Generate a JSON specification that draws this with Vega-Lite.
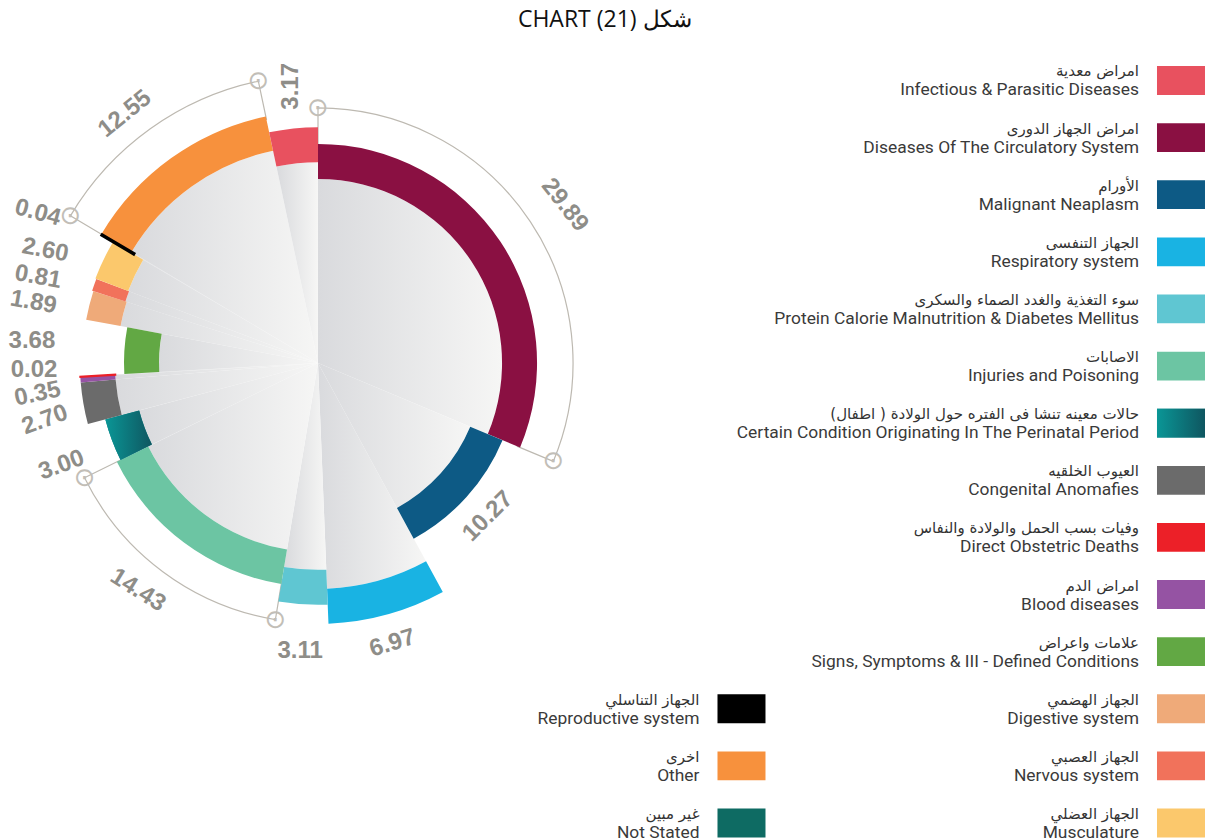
{
  "$schema": "https://vega.github.io/schema/vega-lite/v6.json",
  "padding": {"top": 8, "left": -5, "right": 0, "bottom": 0},
  "bounds": "flush",
  "spacing": 64,
  "title": {"text": "CHART (21) شكل", "font": "Open Sans", "fontSize": 23, "fontWeight": "normal", "color": "#111111", "anchor": "middle", "offset": 5},
  "config": {"view": {"stroke": null}},
  "datasets": {
    "causes": [
      {"key": "circ", "ord": 1, "value": 29.89, "len": 69.1, "en": "Diseases Of The Circulatory System", "ar": "امراض الجهاز الدورى", "lcol": 2, "lrow": 2},
      {"key": "malig", "ord": 2, "value": 10.27, "len": 63.1, "en": "Malignant Neaplasm", "ar": "الأورام", "lcol": 2, "lrow": 3},
      {"key": "resp", "ord": 3, "value": 6.97, "len": 82.3, "en": "Respiratory system", "ar": "الجهاز التنفسى", "lcol": 2, "lrow": 4},
      {"key": "protein", "ord": 4, "value": 3.11, "len": 76.3, "en": "Protein Calorie Malnutrition & Diabetes Mellitus", "ar": "سوء التغذية والغدد الصماء والسكرى", "lcol": 2, "lrow": 5},
      {"key": "inj", "ord": 5, "value": 14.43, "len": 70.7, "en": "Injuries and Poisoning", "ar": "الاصابات", "lcol": 2, "lrow": 6},
      {"key": "peri", "ord": 6, "value": 3.00, "len": 69.4, "en": "Certain Condition Originating In The Perinatal Period", "ar": "حالات معينه تنشا فى الفتره حول الولادة ( اطفال)", "lcol": 2, "lrow": 7},
      {"key": "cong", "ord": 7, "value": 2.70, "len": 75.1, "en": "Congenital Anomafies", "ar": "العيوب الخلقيه", "lcol": 2, "lrow": 8},
      {"key": "blood", "ord": 8, "value": 0.35, "len": 75.1, "en": "Blood diseases", "ar": "امراض الدم", "lcol": 2, "lrow": 10},
      {"key": "direct", "ord": 9, "value": 0.02, "len": 75.1, "en": "Direct Obstetric Deaths", "ar": "وفيات بسب الحمل والولادة والنفاس", "lcol": 2, "lrow": 9},
      {"key": "signs", "ord": 10, "value": 3.68, "len": 61.2, "en": "Signs, Symptoms & III - Defined Conditions", "ar": "علامات واعراض", "lcol": 2, "lrow": 11},
      {"key": "dig", "ord": 11, "value": 1.89, "len": 74.4, "en": "Digestive system", "ar": "الجهاز الهضمي", "lcol": 2, "lrow": 12},
      {"key": "nerv", "ord": 12, "value": 0.81, "len": 74.8, "en": "Nervous system", "ar": "الجهاز العصبي", "lcol": 2, "lrow": 13},
      {"key": "musc", "ord": 13, "value": 2.60, "len": 75.1, "en": "Musculature", "ar": "الجهاز العضلي", "lcol": 2, "lrow": 14},
      {"key": "repro", "ord": 14, "value": 0.04, "len": 79.2, "en": "Reproductive system", "ar": "الجهاز التناسلي", "lcol": 1, "lrow": 12},
      {"key": "other", "ord": 15, "value": 12.55, "len": 79.5, "en": "Other", "ar": "اخرى", "lcol": 1, "lrow": 13},
      {"key": "infect", "ord": 16, "value": 3.17, "len": 74.4, "en": "Infectious & Parasitic Diseases", "ar": "امراض معدية", "lcol": 2, "lrow": 1},
      {"key": "notst", "ord": 17, "value": null, "len": null, "en": "Not Stated", "ar": "غير مبين", "lcol": 1, "lrow": 14}
    ]
  },
  "hconcat": [
    {
      "width": 636,
      "height": 638,
      "data": {"name": "causes"},
      "transform": [
        {"filter": "datum.value != null"},
        {"stack": "value", "groupby": [], "sort": [{"field": "ord", "order": "ascending"}], "as": ["v0", "v1"]}
      ],
      "layer": [
        {
          "mark": {"type": "arc", "radiusOffset": -35, "fill": {"gradient": "linear", "x1": 0, "y1": 0, "x2": 1, "y2": 0, "stops": [{"offset": 0, "color": "#d9dadd"}, {"offset": 1, "color": "#f6f6f5"}]}},
          "encoding": {
            "theta": {"field": "v0", "type": "quantitative", "stack": null, "scale": {"domain": [0, 95.48]}},
            "theta2": {"field": "v1"},
            "radius": {"field": "len", "type": "quantitative", "scale": {"type": "linear", "domain": [0, 100], "range": [0, 317]}}
          }
        },
        {
          "transform": [{"filter": "indexof(['circ','inj','other'], datum.key) >= 0"}],
          "mark": {"type": "arc", "filled": false, "stroke": "#bdb9b1", "strokeWidth": 1.2, "radiusOffset": 36, "radius2Offset": -3},
          "encoding": {
            "theta": {"field": "v0", "type": "quantitative", "stack": null, "scale": {"domain": [0, 95.48]}},
            "theta2": {"field": "v1"},
            "radius": {"field": "len", "type": "quantitative", "scale": {"type": "linear", "domain": [0, 100], "range": [0, 317]}},
            "radius2": {"field": "len"}
          }
        },
        {
          "mark": {"type": "arc", "radius2Offset": -35},
          "encoding": {
            "theta": {"field": "v0", "type": "quantitative", "stack": null, "scale": {"domain": [0, 95.48]}},
            "theta2": {"field": "v1"},
            "radius": {"field": "len", "type": "quantitative", "scale": {"type": "linear", "domain": [0, 100], "range": [0, 317]}},
            "radius2": {"field": "len"},
            "color": {"field": "key", "type": "nominal", "legend": null,
              "scale": {"domain": ["infect", "circ", "malig", "resp", "protein", "inj", "peri", "cong", "direct", "blood", "signs", "dig", "nerv", "musc", "repro", "other", "notst"],
                        "range": ["#e8515f", "#8a1042", "#0d5a85", "#19b3e3", "#5fc6d2", "#6cc5a3", "#0d8285", "#6b6b6b", "#ec2028", "#9553a3", "#62a844", "#efaa79", "#f1725b", "#fbc86c", "#000000", "#f7913d", "#0e6b63"]}}
          }
        },
        {
          "transform": [{"filter": "datum.key === 'peri'"}],
          "mark": {"type": "arc", "radius2Offset": -35, "fill": {"gradient": "linear", "x1": 0, "y1": 0, "x2": 1, "y2": 0, "stops": [{"offset": 0, "color": "#0a9696"}, {"offset": 1, "color": "#0f5660"}]}},
          "encoding": {
            "theta": {"field": "v0", "type": "quantitative", "stack": null, "scale": {"domain": [0, 95.48]}},
            "theta2": {"field": "v1"},
            "radius": {"field": "len", "type": "quantitative", "scale": {"type": "linear", "domain": [0, 100], "range": [0, 317]}},
            "radius2": {"field": "len"}
          }
        },
        {
          "transform": [{"filter": "datum.key === 'repro'"}],
          "mark": {"type": "arc", "radius2Offset": -37, "fill": "#000000", "stroke": "#000000", "strokeWidth": 3},
          "encoding": {
            "theta": {"field": "v0", "type": "quantitative", "stack": null, "scale": {"domain": [0, 95.48]}},
            "theta2": {"field": "v1"},
            "radius": {"field": "len", "type": "quantitative", "scale": {"type": "linear", "domain": [0, 100], "range": [0, 317]}},
            "radius2": {"field": "len"}
          }
        },
        {
          "transform": [{"filter": "datum.key === 'direct'"}],
          "mark": {"type": "arc", "radius2Offset": -35, "fill": "#ec2028", "stroke": "#ec2028", "strokeWidth": 2},
          "encoding": {
            "theta": {"field": "v0", "type": "quantitative", "stack": null, "scale": {"domain": [0, 95.48]}},
            "theta2": {"field": "v1"},
            "radius": {"field": "len", "type": "quantitative", "scale": {"type": "linear", "domain": [0, 100], "range": [0, 317]}},
            "radius2": {"field": "len"}
          }
        },
        {
          "transform": [{"filter": "indexof(['circ','inj','other'], datum.key) >= 0"}],
          "mark": {"type": "text", "text": "⊙", "font": "DejaVu Sans", "fontSize": 26, "color": "#c2beb7", "radiusOffset": 36, "baseline": "middle"},
          "encoding": {
            "theta": {"field": "v0", "type": "quantitative", "stack": null, "scale": {"domain": [0, 95.48]}},
            "radius": {"field": "len", "type": "quantitative", "scale": {"type": "linear", "domain": [0, 100], "range": [0, 317]}}
          }
        },
        {
          "transform": [{"filter": "indexof(['circ','inj','other'], datum.key) >= 0"}],
          "mark": {"type": "text", "text": "⊙", "font": "DejaVu Sans", "fontSize": 26, "color": "#c2beb7", "radiusOffset": 36, "baseline": "middle"},
          "encoding": {
            "theta": {"field": "v1", "type": "quantitative", "stack": null, "scale": {"domain": [0, 95.48]}},
            "radius": {"field": "len", "type": "quantitative", "scale": {"type": "linear", "domain": [0, 100], "range": [0, 317]}}
          }
        },
        {"mark": {"type": "text", "font": "Liberation Sans", "fontWeight": "bold", "fontSize": 24, "color": "#8e8d88", "angle": 52, "thetaOffset": 0.018},
         "encoding": {"theta": {"field": "value", "type": "quantitative", "stack": true, "scale": {"domain": [0, 95.48]}}, "order": {"field": "ord", "type": "quantitative"}, "detail": {"field": "key"}, "radius": {"datum": 92.4, "type": "quantitative", "scale": {"type": "linear", "domain": [0, 100], "range": [0, 317]}},
           "text": {"condition": {"test": "datum.key === 'circ'", "field": "value", "type": "quantitative", "format": ".2f"}, "value": ""}}},
        {"mark": {"type": "text", "font": "Liberation Sans", "fontWeight": "bold", "fontSize": 24, "color": "#8e8d88", "angle": -45, "thetaOffset": 0},
         "encoding": {"theta": {"field": "value", "type": "quantitative", "stack": true, "scale": {"domain": [0, 95.48]}}, "order": {"field": "ord", "type": "quantitative"}, "detail": {"field": "key"}, "radius": {"datum": 72.2, "type": "quantitative", "scale": {"type": "linear", "domain": [0, 100], "range": [0, 317]}},
           "text": {"condition": {"test": "datum.key === 'malig'", "field": "value", "type": "quantitative", "format": ".2f"}, "value": ""}}},
        {"mark": {"type": "text", "font": "Liberation Sans", "fontWeight": "bold", "fontSize": 24, "color": "#8e8d88", "angle": -17, "thetaOffset": 0.01},
         "encoding": {"theta": {"field": "value", "type": "quantitative", "stack": true, "scale": {"domain": [0, 95.48]}}, "order": {"field": "ord", "type": "quantitative"}, "detail": {"field": "key"}, "radius": {"datum": 91.5, "type": "quantitative", "scale": {"type": "linear", "domain": [0, 100], "range": [0, 317]}},
           "text": {"condition": {"test": "datum.key === 'resp'", "field": "value", "type": "quantitative", "format": ".2f"}, "value": ""}}},
        {"mark": {"type": "text", "font": "Liberation Sans", "fontWeight": "bold", "fontSize": 24, "color": "#8e8d88", "angle": 0, "thetaOffset": 0},
         "encoding": {"theta": {"field": "value", "type": "quantitative", "stack": true, "scale": {"domain": [0, 95.48]}}, "order": {"field": "ord", "type": "quantitative"}, "detail": {"field": "key"}, "radius": {"datum": 90.9, "type": "quantitative", "scale": {"type": "linear", "domain": [0, 100], "range": [0, 317]}},
           "text": {"condition": {"test": "datum.key === 'protein'", "field": "value", "type": "quantitative", "format": ".2f"}, "value": ""}}},
        {"mark": {"type": "text", "font": "Liberation Sans", "fontWeight": "bold", "fontSize": 24, "color": "#8e8d88", "angle": 32, "thetaOffset": 0.031},
         "encoding": {"theta": {"field": "value", "type": "quantitative", "stack": true, "scale": {"domain": [0, 95.48]}}, "order": {"field": "ord", "type": "quantitative"}, "detail": {"field": "key"}, "radius": {"datum": 91.5, "type": "quantitative", "scale": {"type": "linear", "domain": [0, 100], "range": [0, 317]}},
           "text": {"condition": {"test": "datum.key === 'inj'", "field": "value", "type": "quantitative", "format": ".2f"}, "value": ""}}},
        {"mark": {"type": "text", "font": "Liberation Sans", "fontWeight": "bold", "fontSize": 24, "color": "#8e8d88", "angle": -20, "thetaOffset": -0.021},
         "encoding": {"theta": {"field": "value", "type": "quantitative", "stack": true, "scale": {"domain": [0, 95.48]}}, "order": {"field": "ord", "type": "quantitative"}, "detail": {"field": "key"}, "radius": {"datum": 87.1, "type": "quantitative", "scale": {"type": "linear", "domain": [0, 100], "range": [0, 317]}},
           "text": {"condition": {"test": "datum.key === 'peri'", "field": "value", "type": "quantitative", "format": ".2f"}, "value": ""}}},
        {"mark": {"type": "text", "font": "Liberation Sans", "fontWeight": "bold", "fontSize": 24, "color": "#8e8d88", "angle": -20, "thetaOffset": -0.035},
         "encoding": {"theta": {"field": "value", "type": "quantitative", "stack": true, "scale": {"domain": [0, 95.48]}}, "order": {"field": "ord", "type": "quantitative"}, "detail": {"field": "key"}, "radius": {"datum": 88.0, "type": "quantitative", "scale": {"type": "linear", "domain": [0, 100], "range": [0, 317]}},
           "text": {"condition": {"test": "datum.key === 'cong'", "field": "value", "type": "quantitative", "format": ".2f"}, "value": ""}}},
        {"mark": {"type": "text", "font": "Liberation Sans", "fontWeight": "bold", "fontSize": 24, "color": "#8e8d88", "angle": -12, "thetaOffset": -0.04},
         "encoding": {"theta": {"field": "value", "type": "quantitative", "stack": true, "scale": {"domain": [0, 95.48]}}, "order": {"field": "ord", "type": "quantitative"}, "detail": {"field": "key"}, "radius": {"datum": 89.0, "type": "quantitative", "scale": {"type": "linear", "domain": [0, 100], "range": [0, 317]}},
           "text": {"condition": {"test": "datum.key === 'blood'", "field": "value", "type": "quantitative", "format": ".2f"}, "value": ""}}},
        {"mark": {"type": "text", "font": "Liberation Sans", "fontWeight": "bold", "fontSize": 24, "color": "#8e8d88", "angle": 0, "thetaOffset": 0.034},
         "encoding": {"theta": {"field": "value", "type": "quantitative", "stack": true, "scale": {"domain": [0, 95.48]}}, "order": {"field": "ord", "type": "quantitative"}, "detail": {"field": "key"}, "radius": {"datum": 89.6, "type": "quantitative", "scale": {"type": "linear", "domain": [0, 100], "range": [0, 317]}},
           "text": {"condition": {"test": "datum.key === 'direct'", "field": "value", "type": "quantitative", "format": ".2f"}, "value": ""}}},
        {"mark": {"type": "text", "font": "Liberation Sans", "fontWeight": "bold", "fontSize": 24, "color": "#8e8d88", "angle": 0, "thetaOffset": 0.012},
         "encoding": {"theta": {"field": "value", "type": "quantitative", "stack": true, "scale": {"domain": [0, 95.48]}}, "order": {"field": "ord", "type": "quantitative"}, "detail": {"field": "key"}, "radius": {"datum": 90.5, "type": "quantitative", "scale": {"type": "linear", "domain": [0, 100], "range": [0, 317]}},
           "text": {"condition": {"test": "datum.key === 'signs'", "field": "value", "type": "quantitative", "format": ".2f"}, "value": ""}}},
        {"mark": {"type": "text", "font": "Liberation Sans", "fontWeight": "bold", "fontSize": 24, "color": "#8e8d88", "angle": 10, "thetaOffset": -0.037},
         "encoding": {"theta": {"field": "value", "type": "quantitative", "stack": true, "scale": {"domain": [0, 95.48]}}, "order": {"field": "ord", "type": "quantitative"}, "detail": {"field": "key"}, "radius": {"datum": 91.8, "type": "quantitative", "scale": {"type": "linear", "domain": [0, 100], "range": [0, 317]}},
           "text": {"condition": {"test": "datum.key === 'dig'", "field": "value", "type": "quantitative", "format": ".2f"}, "value": ""}}},
        {"mark": {"type": "text", "font": "Liberation Sans", "fontWeight": "bold", "fontSize": 24, "color": "#8e8d88", "angle": 10, "thetaOffset": -0.038},
         "encoding": {"theta": {"field": "value", "type": "quantitative", "stack": true, "scale": {"domain": [0, 95.48]}}, "order": {"field": "ord", "type": "quantitative"}, "detail": {"field": "key"}, "radius": {"datum": 92.4, "type": "quantitative", "scale": {"type": "linear", "domain": [0, 100], "range": [0, 317]}},
           "text": {"condition": {"test": "datum.key === 'nerv'", "field": "value", "type": "quantitative", "format": ".2f"}, "value": ""}}},
        {"mark": {"type": "text", "font": "Liberation Sans", "fontWeight": "bold", "fontSize": 24, "color": "#8e8d88", "angle": 11, "thetaOffset": -0.056},
         "encoding": {"theta": {"field": "value", "type": "quantitative", "stack": true, "scale": {"domain": [0, 95.48]}}, "order": {"field": "ord", "type": "quantitative"}, "detail": {"field": "key"}, "radius": {"datum": 93.1, "type": "quantitative", "scale": {"type": "linear", "domain": [0, 100], "range": [0, 317]}},
           "text": {"condition": {"test": "datum.key === 'musc'", "field": "value", "type": "quantitative", "format": ".2f"}, "value": ""}}},
        {"mark": {"type": "text", "font": "Liberation Sans", "fontWeight": "bold", "fontSize": 24, "color": "#8e8d88", "angle": 15, "thetaOffset": -0.043},
         "encoding": {"theta": {"field": "value", "type": "quantitative", "stack": true, "scale": {"domain": [0, 95.48]}}, "order": {"field": "ord", "type": "quantitative"}, "detail": {"field": "key"}, "radius": {"datum": 100.3, "type": "quantitative", "scale": {"type": "linear", "domain": [0, 100], "range": [0, 317]}},
           "text": {"condition": {"test": "datum.key === 'repro'", "field": "value", "type": "quantitative", "format": ".2f"}, "value": ""}}},
        {"mark": {"type": "text", "font": "Liberation Sans", "fontWeight": "bold", "fontSize": 24, "color": "#8e8d88", "angle": -39, "thetaOffset": -0.038},
         "encoding": {"theta": {"field": "value", "type": "quantitative", "stack": true, "scale": {"domain": [0, 95.48]}}, "order": {"field": "ord", "type": "quantitative"}, "detail": {"field": "key"}, "radius": {"datum": 99.4, "type": "quantitative", "scale": {"type": "linear", "domain": [0, 100], "range": [0, 317]}},
           "text": {"condition": {"test": "datum.key === 'other'", "field": "value", "type": "quantitative", "format": ".2f"}, "value": ""}}},
        {"mark": {"type": "text", "font": "Liberation Sans", "fontWeight": "bold", "fontSize": 24, "color": "#8e8d88", "angle": -90, "thetaOffset": 0.007},
         "encoding": {"theta": {"field": "value", "type": "quantitative", "stack": true, "scale": {"domain": [0, 95.48]}}, "order": {"field": "ord", "type": "quantitative"}, "detail": {"field": "key"}, "radius": {"datum": 87.7, "type": "quantitative", "scale": {"type": "linear", "domain": [0, 100], "range": [0, 317]}},
           "text": {"condition": {"test": "datum.key === 'infect'", "field": "value", "type": "quantitative", "format": ".2f"}, "value": ""}}}
      ]
    },
    {
      "width": 514,
      "height": 790,
      "data": {"name": "causes"},
      "encoding": {
        "x": {"field": "lcol", "type": "quantitative", "scale": {"domain": [0.9056, 2.0751]}, "axis": null},
        "y": {"field": "lrow", "type": "quantitative", "scale": {"domain": [0.361, 14.193], "reverse": true}, "axis": null}
      },
      "layer": [
        {
          "mark": {"type": "point", "shape": "M-1,-0.6L1,-0.6L1,0.6L-1,0.6Z", "size": 2304, "filled": true, "opacity": 1, "strokeWidth": 0},
          "encoding": {
            "color": {"field": "key", "type": "nominal", "legend": null,
              "scale": {"domain": ["infect", "circ", "malig", "resp", "protein", "inj", "peri", "cong", "direct", "blood", "signs", "dig", "nerv", "musc", "repro", "other", "notst"],
                        "range": ["#e8515f", "#8a1042", "#0d5a85", "#19b3e3", "#5fc6d2", "#6cc5a3", "#0d8285", "#6b6b6b", "#ec2028", "#9553a3", "#62a844", "#efaa79", "#f1725b", "#fbc86c", "#000000", "#f7913d", "#0e6b63"]}}
          }
        },
        {
          "transform": [{"filter": "datum.key === 'peri'"}],
          "mark": {"type": "point", "shape": "M-1,-0.6L1,-0.6L1,0.6L-1,0.6Z", "size": 2304, "filled": true, "opacity": 1, "strokeWidth": 0, "fill": {"gradient": "linear", "x1": 0, "y1": 0, "x2": 1, "y2": 0, "stops": [{"offset": 0, "color": "#0a9696"}, {"offset": 1, "color": "#0f5660"}]}}
        },
        {
          "mark": {"type": "text", "align": "right", "baseline": "middle", "dx": -42, "dy": -9, "font": "DejaVu Sans", "fontSize": 15, "color": "#333333"},
          "encoding": {"text": {"field": "ar"}}
        },
        {
          "mark": {"type": "text", "align": "right", "baseline": "middle", "dx": -42, "dy": 10, "font": "Roboto", "fontSize": 17.4, "color": "#3a3a3a"},
          "encoding": {"text": {"field": "en"}}
        }
      ]
    }
  ]
}
